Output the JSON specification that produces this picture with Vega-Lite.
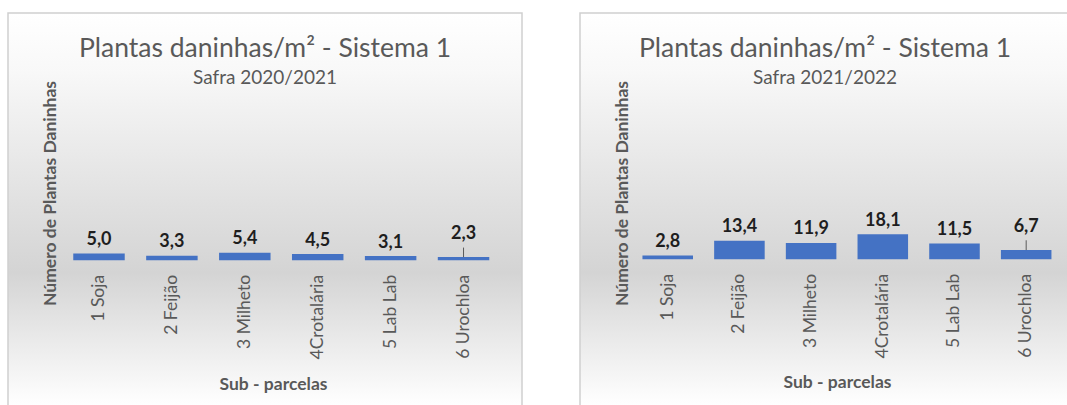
{
  "$schema": "https://vega.github.io/schema/vega-lite/v6.json",
  "padding": {"left": 7, "top": 12, "right": 0, "bottom": 0},
  "background": "white",
  "spacing": 56,
  "datasets": {
    "s2021": [
      {"parcela": "1 Soja", "valor": 5.0, "limite": 5.0},
      {"parcela": "2 Feijão", "valor": 3.3, "limite": 3.3},
      {"parcela": "3 Milheto", "valor": 5.4, "limite": 5.4},
      {"parcela": "4Crotalária", "valor": 4.5, "limite": 4.5},
      {"parcela": "5 Lab Lab", "valor": 3.1, "limite": 3.1},
      {"parcela": "6 Urochloa", "valor": 2.3, "limite": 9.2}
    ],
    "s2122": [
      {"parcela": "1 Soja", "valor": 2.8, "limite": 2.8},
      {"parcela": "2 Feijão", "valor": 13.4, "limite": 13.4},
      {"parcela": "3 Milheto", "valor": 11.9, "limite": 11.9},
      {"parcela": "4Crotalária", "valor": 18.1, "limite": 18.1},
      {"parcela": "5 Lab Lab", "valor": 11.5, "limite": 11.5},
      {"parcela": "6 Urochloa", "valor": 6.7, "limite": 13.8}
    ]
  },
  "config": {
    "font": "Lato",
    "locale": {"number": {"decimal": ",", "thousands": ".", "grouping": [3], "currency": ["R$", ""]}},
    "view": {
      "stroke": "#d0d0d0",
      "strokeWidth": 1.5,
      "fill": {
        "gradient": "linear", "x1": 0, "y1": 0, "x2": 0, "y2": 1,
        "stops": [
          {"offset": 0, "color": "#ffffff"},
          {"offset": 0.15, "color": "#f8f8f8"},
          {"offset": 0.66, "color": "#d4d4d4"},
          {"offset": 1, "color": "#ffffff"}
        ]
      }
    },
    "axis": {"grid": false, "domain": false, "ticks": false},
    "axisY": {
      "title": "Número de Plantas Daninhas", "labels": false,
      "titleX": 42, "titleY": 180, "titleAngle": 270, "titleBaseline": "middle", "titleAlign": "center",
      "titleFontSize": 17.5, "titleFontWeight": "bold", "titleColor": "#595959"
    },
    "title": {
      "anchor": "middle", "frame": "group", "offset": -75,
      "fontSize": 26.5, "fontWeight": "normal", "color": "#595959",
      "subtitleFontSize": 19, "subtitleColor": "#595959", "subtitlePadding": 7
    }
  },
  "hconcat": [
    {
      "width": 514, "height": 393,
      "data": {"name": "s2021"},
      "title": {"text": "Plantas daninhas/m² - Sistema 1", "subtitle": "Safra 2020/2021"},
      "encoding": {
        "x": {
          "field": "parcela", "type": "nominal", "sort": null,
          "scale": {"paddingInner": 0.294, "paddingOuter": 0.672, "align": 0.666},
          "axis": {
            "title": "Sub - parcelas", "labelAngle": 270, "labelAlign": "right", "labelBaseline": "middle",
            "labelPadding": 14, "labelFontSize": 17.5, "labelColor": "#595959", "labelLimit": 300, "labelOverlap": false,
            "offset": -145.7,
            "titleFontSize": 17.5, "titleFontWeight": "bold", "titleColor": "#595959",
            "titleX": 265, "titleY": 129, "titleBaseline": "alphabetic", "titleAlign": "center"
          }
        }
      },
      "layer": [
        {
          "mark": {"type": "bar", "color": "#4472C4"},
          "encoding": {
            "y": {
              "field": "valor", "type": "quantitative", "title": "Número de Plantas Daninhas",
              "scale": {"domain": [-105.6, 179.2], "nice": false, "zero": false}
            }
          }
        },
        {
          "mark": {"type": "rule", "color": "#595959", "strokeWidth": 1},
          "encoding": {
            "y": {"field": "valor", "type": "quantitative", "title": "Número de Plantas Daninhas"},
            "y2": {"field": "limite"}
          }
        },
        {
          "mark": {"type": "text", "baseline": "alphabetic", "dy": -8.5, "fontSize": 18, "fontWeight": "bold", "color": "#1e1e1e"},
          "encoding": {
            "y": {"field": "limite", "type": "quantitative", "title": "Número de Plantas Daninhas"},
            "text": {"field": "valor", "type": "quantitative", "format": ".1f"}
          }
        }
      ]
    },
    {
      "width": 490, "height": 393,
      "data": {"name": "s2122"},
      "title": {"text": "Plantas daninhas/m² - Sistema 1", "subtitle": "Safra 2021/2022"},
      "encoding": {
        "x": {
          "field": "parcela", "type": "nominal", "sort": null,
          "scale": {"paddingInner": 0.295, "paddingOuter": 0.565, "align": 0.771},
          "axis": {
            "title": "Sub - parcelas", "labelAngle": 270, "labelAlign": "right", "labelBaseline": "middle",
            "labelPadding": 14, "labelFontSize": 17.5, "labelColor": "#595959", "labelLimit": 300, "labelOverlap": false,
            "offset": -146.7,
            "titleFontSize": 17.5, "titleFontWeight": "bold", "titleColor": "#595959",
            "titleX": 257, "titleY": 128.4, "titleBaseline": "alphabetic", "titleAlign": "center"
          }
        }
      },
      "layer": [
        {
          "mark": {"type": "bar", "color": "#4472C4"},
          "encoding": {
            "y": {
              "field": "valor", "type": "quantitative", "title": "Número de Plantas Daninhas",
              "scale": {"domain": [-106.3, 178.5], "nice": false, "zero": false}
            }
          }
        },
        {
          "mark": {"type": "rule", "color": "#595959", "strokeWidth": 1},
          "encoding": {
            "y": {"field": "valor", "type": "quantitative", "title": "Número de Plantas Daninhas"},
            "y2": {"field": "limite"}
          }
        },
        {
          "mark": {"type": "text", "baseline": "alphabetic", "dy": -8.5, "fontSize": 18, "fontWeight": "bold", "color": "#1e1e1e"},
          "encoding": {
            "y": {"field": "limite", "type": "quantitative", "title": "Número de Plantas Daninhas"},
            "text": {"field": "valor", "type": "quantitative", "format": ".1f"}
          }
        }
      ]
    }
  ]
}
